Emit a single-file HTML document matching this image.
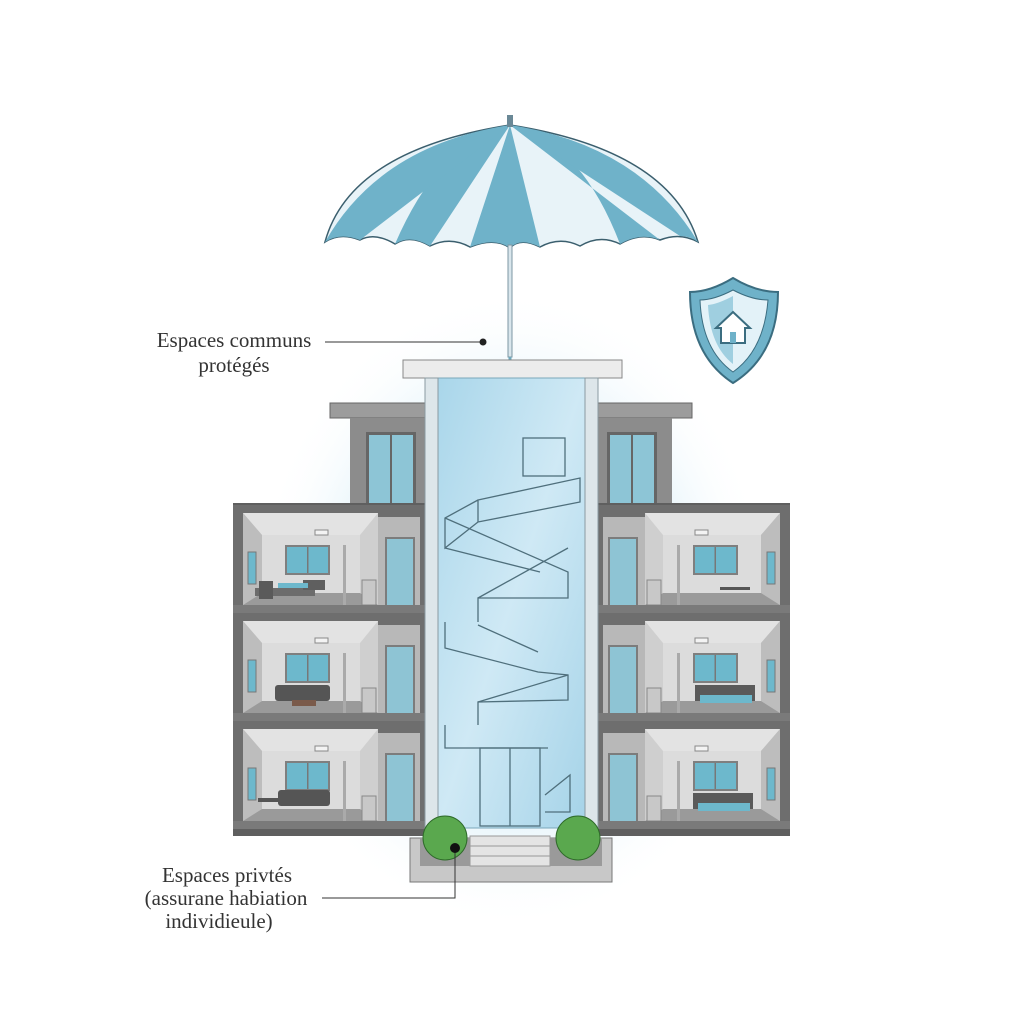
<!DOCTYPE html>
<html><head><meta charset="utf-8"><style>
html,body{margin:0;padding:0;background:#fff;}
svg{display:block;}
text{font-family:"Liberation Serif",serif;font-size:21px;fill:#333;}
</style></head><body>
<svg width="1024" height="1024" viewBox="0 0 1024 1024" xmlns="http://www.w3.org/2000/svg">
<defs>
<radialGradient id="glow" cx="0.5" cy="0.5" r="0.5">
<stop offset="0" stop-color="#b5def0" stop-opacity="0.95"/>
<stop offset="0.6" stop-color="#d3ecf7" stop-opacity="0.7"/>
<stop offset="1" stop-color="#fff" stop-opacity="0"/>
</radialGradient>
<linearGradient id="glass" x1="0" y1="0" x2="1" y2="1">
<stop offset="0" stop-color="#a9d6ea"/>
<stop offset="0.5" stop-color="#cfe9f5"/>
<stop offset="1" stop-color="#a5d3e8"/>
</linearGradient>
<g id="room">
<rect x="0" y="0" width="192" height="108" fill="#6e6e6e"/>
<rect x="10" y="8" width="135" height="95" fill="#cfcfcf"/>
<polygon points="10,8 145,8 127,30 29,30" fill="#e3e3e3"/>
<polygon points="10,8 29,30 29,88 10,100" fill="#bdbdbd"/>
<rect x="29" y="30" width="98" height="58" fill="#dcdcdc"/>
<polygon points="10,100 29,88 127,88 145,100" fill="#9a9a9a"/>
<rect x="52" y="40" width="45" height="30" fill="#7f7f7f"/>
<rect x="54" y="42" width="41" height="26" fill="#6db8cc"/>
<rect x="74" y="42" width="1.5" height="26" fill="#777"/>
<rect x="15" y="47" width="8" height="32" fill="#6db8cc" stroke="#777"/>
<rect x="82" y="25" width="13" height="5" fill="#f3f3f3" stroke="#888"/>
<rect x="110" y="40" width="3" height="60" fill="#aaa"/>
<rect x="129" y="75" width="14" height="25" fill="#c8c8c8" stroke="#888"/>
<rect x="145" y="12" width="42" height="90" fill="#b8b8b8"/>
<rect x="152" y="32" width="30" height="76" fill="#7c7c7c"/>
<rect x="154" y="34" width="26" height="72" fill="#8ec4d4"/>
<rect x="0" y="100" width="192" height="8" fill="#7a7a7a"/>
</g>
<g id="furn1">
<rect x="22" y="83" width="60" height="8" fill="#6c6c6c"/>
<rect x="26" y="76" width="14" height="18" fill="#5a5a5a"/>
<rect x="70" y="75" width="22" height="10" fill="#5f5f5f"/>
<rect x="45" y="78" width="30" height="5" fill="#6db8cc"/>
</g>
</defs>

<rect width="1024" height="1024" fill="#fff"/>
<ellipse cx="512" cy="610" rx="260" ry="320" fill="url(#glow)"/>

<path d="M325,242 Q350,150 510,125 Q670,150 698,242 Q680,232 660,240 Q640,232 620,244 Q600,234 580,246 Q560,236 540,247 Q520,237 510,248 Q495,237 470,247 Q450,236 430,246 Q410,234 395,244 Q375,232 360,240 Q340,232 325,242Z" fill="#e8f3f8" stroke="#3b5f6e" stroke-width="1.5"/>
<path d="M510,125 L470,247 Q495,237 510,248 Q520,237 540,247Z" fill="#6fb2c9"/>
<path d="M510,125 Q440,140 395,244 Q410,234 430,246Z" fill="#6fb2c9"/>
<path d="M510,125 Q580,140 620,244 Q640,232 660,240Z" fill="#6fb2c9"/>
<path d="M510,125 Q380,145 325,242 Q340,232 360,240Z" fill="#6fb2c9"/>
<path d="M510,125 Q640,145 698,242 Q690,236 680,236Z" fill="#6fb2c9"/>
<rect x="507" y="115" width="6" height="12" fill="#6a8896"/>
<rect x="508" y="245" width="4" height="112" fill="#d9e6ec" stroke="#7d97a3"/>
<path d="M510,357 L510,378 Q510,390 497,390 Q487,390 487,380" fill="none" stroke="#6fa9bd" stroke-width="3"/>

<path d="M733,278 Q710,292 690,292 Q690,355 733,383 Q778,355 778,292 Q756,292 733,278Z" fill="#6fb2c9" stroke="#3b6d80" stroke-width="2"/>
<path d="M733,290 Q714,300 700,300 Q702,350 733,372 Q764,350 768,300 Q752,300 733,290Z" fill="#e3f2f8" stroke="#3b6d80"/>
<path d="M733,296 Q718,304 708,305 Q710,346 733,364Z" fill="#9fcfe0"/>
<path d="M716,328 L733,312 L750,328 L745,328 L745,343 L721,343 L721,328Z" fill="#fff" stroke="#3b6d80" stroke-width="2"/>
<rect x="730" y="332" width="6" height="11" fill="#6fb2c9"/>

<rect x="330" y="403" width="362" height="15" fill="#9c9c9c" stroke="#666"/>
<rect x="350" y="418" width="322" height="87" fill="#8c8c8c"/>
<rect x="366" y="432" width="50" height="71" fill="#666"/>
<rect x="369" y="435" width="44" height="68" fill="#8dc5d6"/>
<rect x="390" y="435" width="2" height="68" fill="#666"/>
<rect x="607" y="432" width="50" height="71" fill="#666"/>
<rect x="610" y="435" width="44" height="68" fill="#8dc5d6"/>
<rect x="631" y="435" width="2" height="68" fill="#666"/>

<rect x="233" y="503" width="192" height="333" fill="#5f5f5f"/>
<rect x="598" y="503" width="192" height="333" fill="#5f5f5f"/>
<use href="#room" x="233" y="505"/>
<use href="#room" x="233" y="613"/>
<use href="#room" x="233" y="721"/>
<g transform="translate(1023,0) scale(-1,1)">
<use href="#room" x="233" y="505"/>
<use href="#room" x="233" y="613"/>
<use href="#room" x="233" y="721"/>
</g>
<use href="#furn1" x="233" y="505"/>
<rect x="275" y="685" width="55" height="16" rx="3" fill="#555"/>
<rect x="292" y="700" width="24" height="6" fill="#7a5a4a"/>
<rect x="278" y="790" width="52" height="16" rx="3" fill="#555"/>
<rect x="258" y="798" width="32" height="4" fill="#555"/>
<rect x="695" y="685" width="60" height="16" fill="#5a5a5a"/>
<rect x="700" y="695" width="52" height="8" fill="#6db8cc"/>
<rect x="693" y="793" width="60" height="16" fill="#5a5a5a"/>
<rect x="698" y="803" width="52" height="8" fill="#6db8cc"/>
<rect x="720" y="587" width="30" height="3" fill="#555"/>

<rect x="403" y="360" width="219" height="18" fill="#ececec" stroke="#888"/>
<rect x="438" y="378" width="147" height="450" fill="url(#glass)" stroke="#7aa7ba"/>
<rect x="425" y="378" width="13" height="452" fill="#dde6ea" stroke="#8a9aa1"/>
<rect x="585" y="378" width="13" height="452" fill="#dde6ea" stroke="#8a9aa1"/>
<g fill="none" stroke="#4f6f7c" stroke-width="1.3">
<rect x="523" y="438" width="42" height="38"/>
<path d="M478,500 L580,478 L580,502 L478,522Z M478,500 L445,518 L445,548 L478,522"/>
<path d="M445,518 L568,572 L568,598 L478,598 L478,622"/>
<path d="M478,598 L568,548 M445,548 L540,572"/>
<path d="M445,622 L445,648 L538,672 L568,675 L568,700 L478,702 L478,725"/>
<path d="M478,625 L538,652 M478,702 L568,675 M445,725 L445,748 L548,748"/>
<rect x="480" y="748" width="60" height="78"/>
<path d="M510,748 L510,826 M545,795 L570,775 L570,812 L545,812"/>
</g>
<rect x="410" y="838" width="202" height="44" fill="#c8c8c8" stroke="#777"/>
<rect x="420" y="838" width="182" height="28" fill="#9a9a9a"/>
<rect x="470" y="836" width="80" height="30" fill="#e4e4e4" stroke="#999"/>
<path d="M470,846 H550 M470,856 H550" stroke="#999"/>
<circle cx="445" cy="838" r="22" fill="#5aa84e" stroke="#2f6a2a"/>
<circle cx="578" cy="838" r="22" fill="#5aa84e" stroke="#2f6a2a"/>

<text x="234" y="347" text-anchor="middle">Espaces communs</text>
<text x="234" y="372" text-anchor="middle">protégés</text>
<line x1="325" y1="342" x2="483" y2="342" stroke="#333"/>
<circle cx="483" cy="342" r="3.5" fill="#222"/>
<text x="227" y="882" text-anchor="middle">Espaces privtés</text>
<text x="226" y="905" text-anchor="middle">(assurane habiation</text>
<text x="219" y="928" text-anchor="middle">individieule)</text>
<path d="M322,898 H455 V848" fill="none" stroke="#333"/>
<circle cx="455" cy="848" r="5" fill="#111"/>
</svg>
</body></html>
